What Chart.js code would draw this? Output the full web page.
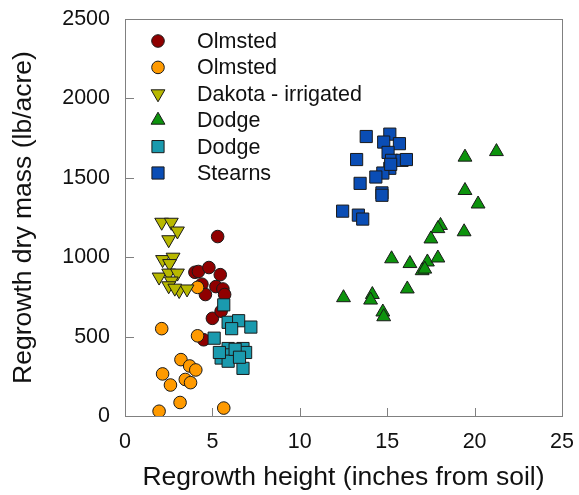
<!DOCTYPE html>
<html>
<head>
<meta charset="utf-8">
<script src="https://cdn.jsdelivr.net/npm/chart.js@4/dist/chart.umd.min.js"></script>
<style>
  html, body { margin: 0; padding: 0; background: #fff; }
  #wrap { width: 579px; height: 495px; }
</style>
</head>
<body>
<div id="wrap"><canvas id="chart" width="579" height="495"></canvas></div>
<script>
// Regrowth height (inches) vs. regrowth dry mass (lb/acre), by county.
const seriesNames = ['Olmsted', 'Olmsted', 'Dakota - irrigated', 'Dodge', 'Dodge', 'Stearns'];

const olmstedDark = [
  [4.0, 905], [4.2, 910], [4.8, 935], [5.45, 890], [4.4, 830], [5.2, 815], [5.6, 800],
  [4.6, 765], [5.7, 765], [5.3, 1130], [5.0, 615], [5.5, 660], [4.5, 480]
];
const olmstedLight = [
  [2.1, 550], [4.15, 810], [4.15, 505], [3.2, 355], [3.7, 315], [4.05, 290], [2.15, 265],
  [2.6, 195], [3.45, 230], [3.75, 210], [3.15, 85], [1.95, 30], [5.65, 50]
];
const dakotaIrrigated = [
  [2.1, 1220], [2.65, 1220], [3.0, 1165], [2.5, 1110], [2.15, 985], [2.75, 1000],
  [2.55, 960], [1.95, 875], [2.5, 900], [3.0, 900], [2.65, 850], [3.1, 790],
  [3.55, 800], [2.5, 820], [2.85, 805]
];
const dodgeTriangles = [
  [19.45, 1630], [21.25, 1665], [19.45, 1420], [20.2, 1335], [18.05, 1200], [17.9, 1180],
  [19.4, 1160], [17.5, 1115], [15.25, 990], [16.3, 960], [17.3, 970], [17.9, 995],
  [17.0, 915], [17.15, 925], [16.15, 800], [12.5, 745], [14.15, 765], [14.05, 730],
  [14.75, 655], [14.8, 625]
];
const dodgeSquares = [
  [5.65, 700], [5.9, 590], [6.5, 600], [7.2, 560], [5.1, 490], [6.1, 550], [5.9, 425],
  [6.75, 425], [5.5, 365], [6.05, 385], [5.9, 345], [6.75, 300], [5.4, 400], [6.9, 400],
  [6.3, 420], [6.55, 370]
];
const stearns = [
  [13.8, 1760], [15.15, 1775], [14.8, 1725], [15.7, 1715], [15.05, 1660], [13.25, 1615],
  [15.25, 1610], [15.85, 1610], [16.1, 1615], [15.15, 1560], [14.75, 1530], [14.35, 1505],
  [13.45, 1465], [14.7, 1405], [14.7, 1390], [12.45, 1290], [13.35, 1265], [13.6, 1240],
  [15.2, 1585]
];

const xTicks = [0, 5, 10, 15, 20, 25];
const yTicks = [0, 500, 1000, 1500, 2000, 2500];

const FONT = "'Liberation Sans', Arial, sans-serif";
const INK = '#111111';
const FRAME = '#808080';

const styles = [
  { fill: '#8f0000', shape: 'circle',   radius: 6.3, rotation: 0 },
  { fill: '#ff9a00', shape: 'circle',   radius: 6.3, rotation: 0 },
  { fill: '#b8b800', shape: 'triangle', radius: 8,   rotation: 180 },
  { fill: '#0d930d', shape: 'triangle', radius: 8,   rotation: 0 },
  { fill: '#1a9aae', shape: 'rect',     radius: 8.6, rotation: 0 },
  { fill: '#0a4db5', shape: 'rect',     radius: 8.6, rotation: 0 }
];
const seriesData = [olmstedDark, olmstedLight, dakotaIrrigated, dodgeTriangles, dodgeSquares, stearns];

const datasets = seriesData.map((pts, i) => ({
  label: seriesNames[i],
  data: pts.map(p => ({ x: p[0], y: p[1] })),
  pointStyle: styles[i].shape,
  pointRadius: styles[i].radius,
  pointRotation: styles[i].rotation,
  backgroundColor: styles[i].fill,
  borderColor: '#1a1a1a',
  borderWidth: 1,
  order: -i
}));

// Plot frame and inward-pointing tick marks.
const framePlugin = {
  id: 'frame',
  beforeDatasetsDraw(chart) {
    const { ctx, chartArea: a, scales } = chart;
    ctx.save();
    ctx.strokeStyle = FRAME;
    ctx.lineWidth = 1;
    ctx.strokeRect(a.left + 0.5, a.top + 0.5, a.right - a.left, a.bottom - a.top);
    ctx.beginPath();
    xTicks.forEach(v => {
      const px = Math.round(scales.x.getPixelForValue(v)) + 0.5;
      ctx.moveTo(px, a.bottom);
      ctx.lineTo(px, a.bottom - 8);
    });
    yTicks.forEach(v => {
      const py = Math.round(scales.y.getPixelForValue(v)) + 0.5;
      ctx.moveTo(a.left, py);
      ctx.lineTo(a.left + 9, py);
    });
    ctx.stroke();
    ctx.restore();
  }
};

// Legend drawn inside the upper-left corner of the plot area.
const insetLegend = {
  id: 'insetLegend',
  afterDatasetsDraw(chart) {
    const { ctx, chartArea: a } = chart;
    const markerX = a.left + 33;
    const textX = a.left + 72;
    const top = a.top + 22;
    const step = 26.4;
    ctx.save();
    chart.data.datasets.forEach((ds, i) => {
      const y = top + i * step;
      ctx.fillStyle = ds.backgroundColor;
      ctx.strokeStyle = ds.borderColor;
      ctx.lineWidth = 1;
      Chart.helpers.drawPoint(ctx, {
        pointStyle: ds.pointStyle,
        radius: ds.pointRadius,
        rotation: ds.pointRotation,
        borderWidth: 1
      }, markerX, y);
      ctx.fillStyle = INK;
      ctx.font = '21.5px ' + FONT;
      ctx.textAlign = 'left';
      ctx.textBaseline = 'middle';
      ctx.fillText(ds.label, textX, y + 1);
    });
    ctx.restore();
  }
};

new Chart(document.getElementById('chart'), {
  type: 'scatter',
  data: { datasets },
  options: {
    responsive: false,
    animation: false,
    layout: { padding: { top: 19, right: 17, left: 0, bottom: 0 } },
    plugins: { legend: { display: false }, tooltip: { enabled: false } },
    scales: {
      x: {
        type: 'linear',
        min: 0, max: 25,
        afterBuildTicks(scale) { scale.ticks = xTicks.map(v => ({ value: v })); },
        afterFit(scale) { scale.height = 79; },
        ticks: {
          callback: v => String(v),
          font: { family: FONT, size: 21.5 },
          color: INK,
          padding: 0,
          maxRotation: 0
        },
        grid: { drawOnChartArea: false, drawTicks: true, tickLength: 13, tickColor: 'rgba(0,0,0,0)' },
        border: { color: FRAME },
        title: {
          display: true,
          text: 'Regrowth height (inches from soil)',
          font: { family: FONT, size: 26.5 },
          color: INK,
          padding: { top: 0, bottom: 1 }
        }
      },
      y: {
        type: 'linear',
        min: 0, max: 2500,
        afterBuildTicks(scale) { scale.ticks = yTicks.map(v => ({ value: v })); },
        afterFit(scale) { scale.width = 125; },
        ticks: {
          callback: v => String(v),
          font: { family: FONT, size: 21.5 },
          color: INK,
          padding: 0
        },
        grid: { drawOnChartArea: false, drawTicks: true, tickLength: 15, tickColor: 'rgba(0,0,0,0)' },
        border: { color: FRAME },
        title: {
          display: true,
          text: 'Regrowth dry mass (lb/acre)',
          font: { family: FONT, size: 26.5 },
          color: INK,
          padding: { top: 8, bottom: 0 }
        }
      }
    }
  },
  plugins: [framePlugin, insetLegend]
});
</script>
</body>
</html>
